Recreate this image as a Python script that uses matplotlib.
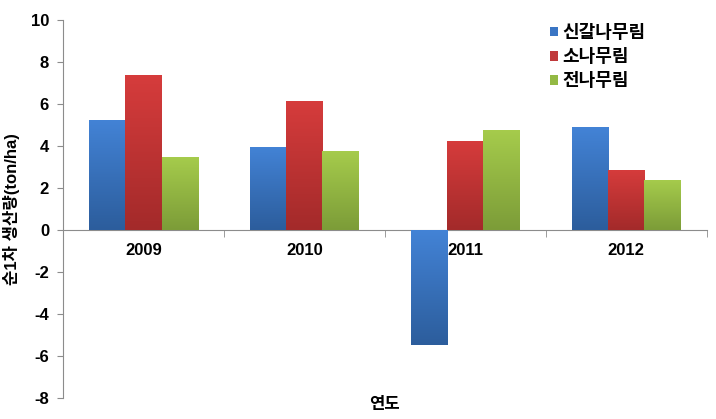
import numpy as np
import matplotlib
matplotlib.use("Agg")
import matplotlib.pyplot as plt
from matplotlib.colors import LinearSegmentedColormap

plt.rcParams['font.family'] = ['Liberation Sans', 'Noto Sans CJK KR', 'DejaVu Sans']
plt.rcParams['axes.unicode_minus'] = False

years = ["2009", "2010", "2011", "2012"]
series_names = ["신갈나무림", "소나무림", "전나무림"]
singal = [5.26, 3.97, -5.45, 4.90]
sonamu = [7.37, 6.17, 4.26, 2.87]
jeonnamu = [3.49, 3.78, 4.78, 2.39]

# (top colour, bottom colour) for the gradient fill
grad_colors = [("#4383d6", "#2c5d9c"), ("#d63c3c", "#a32a2a"), ("#a6cc4c", "#7c9c38")]
legend_colors = ["#3a75c4", "#c0393b", "#93b944"]

fig = plt.figure(figsize=(7.16, 4.19), dpi=100)
ax = fig.add_axes([0.088, 0.050, 0.899, 0.902])

x = np.arange(len(years))
width = 0.225
grad = np.linspace(0, 1, 256).reshape(-1, 1)

for i, vals in enumerate([singal, sonamu, jeonnamu]):
    cmap = LinearSegmentedColormap.from_list("g%d" % i, [grad_colors[i][0], grad_colors[i][1]])
    bars = ax.bar(x + (i - 1) * width, vals, width, color=legend_colors[i],
                  label=series_names[i], zorder=2)
    for b in bars:
        x0, y0 = b.get_x(), b.get_y()
        w, h = b.get_width(), b.get_height()
        lo, hi = min(y0, y0 + h), max(y0, y0 + h)
        im = ax.imshow(grad, cmap=cmap, aspect="auto", extent=[x0, x0 + w, lo, hi],
                       origin="upper", zorder=3)
        im.set_clip_path(b)

ax.set_xlim(-0.5, 3.5)
ax.set_ylim(-8, 10)
ax.set_yticks(np.arange(-8, 11, 2))

for s in ["top", "right"]:
    ax.spines[s].set_visible(False)
ax.spines["bottom"].set_position(("data", 0))
for s in ["left", "bottom"]:
    ax.spines[s].set_color("#8c8c8c")

ax.set_xticks(x)
ax.set_xticklabels(years, fontsize=12, fontweight="bold")
ax.set_xticks(np.arange(-0.5, 4.0, 1.0), minor=True)
ax.tick_params(axis="x", which="major", length=0, pad=9)
ax.tick_params(axis="x", which="minor", length=5, color="#8c8c8c", direction="out")
ax.tick_params(axis="y", length=4, color="#8c8c8c", labelsize=12, pad=6)
for t in ax.get_yticklabels():
    t.set_fontweight("bold")

ax.set_ylabel("순1차 생산량(ton/ha)", fontsize=12, fontweight="bold", labelpad=8)
ax.text(0.5, -0.018, "연도", transform=ax.transAxes, ha="center", va="center",
        fontsize=12, fontweight="bold")

leg = ax.legend(loc="upper right", bbox_to_anchor=(0.93, 1.03), frameon=False,
                fontsize=13, handlelength=0.45, handleheight=0.45, handletextpad=0.25,
                labelspacing=0.4)
for t in leg.get_texts():
    t.set_fontweight("bold")

fig.savefig("out.png", dpi=100)
